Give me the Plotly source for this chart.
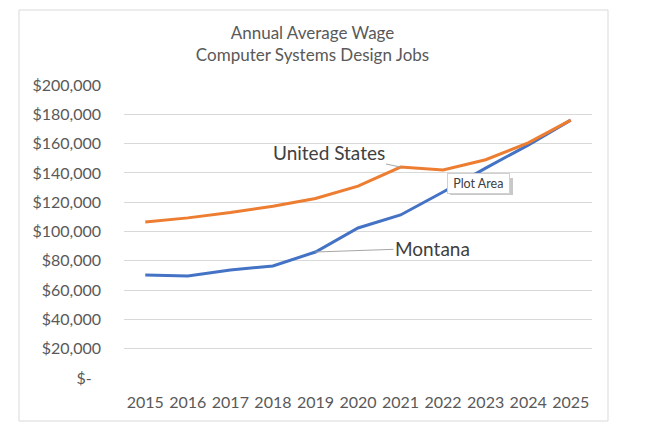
import plotly.graph_objects as go

years = ["2015", "2016", "2017", "2018", "2019", "2020", "2021", "2022", "2023", "2024", "2025"]
us_wage = [106500, 109300, 112900, 117200, 122500, 131000, 144000, 142000, 149000, 160500, 176000]
mt_wage = [70300, 69600, 73700, 76500, 86000, 102400, 111300, 127000, 143300, 159000, 176000]
y_ticks = [0, 20000, 40000, 60000, 80000, 100000, 120000, 140000, 160000, 180000, 200000]
y_text = ["$-\u2007"] + [f"${v:,}" for v in y_ticks[1:]]

FONT = "Lato"
GREY = "#595959"

fig = go.Figure()
fig.add_trace(go.Scatter(x=years, y=mt_wage, mode="lines", name="Montana",
                         line=dict(color="#4472C4", width=3)))
fig.add_trace(go.Scatter(x=years, y=us_wage, mode="lines", name="United States",
                         line=dict(color="#ED7D31", width=3)))

fig.update_layout(
    width=664, height=433,
    margin=dict(l=124, r=72, t=85, b=55),
    paper_bgcolor="white", plot_bgcolor="white",
    showlegend=False,
    font=dict(family=FONT, color=GREY, size=16),
    title=dict(text="Annual Average Wage<br>Computer Systems Design Jobs",
               x=312.5 / 664, xanchor="center", y=0.911, yanchor="top",
               font=dict(family=FONT, size=17, color=GREY)),
)
fig.update_xaxes(type="category", range=[-0.5, 10.5], showgrid=False, showline=False,
                 ticks="", tickfont=dict(size=16, color=GREY), ticklabelstandoff=13)
fig.update_yaxes(range=[0, 200000], tickvals=y_ticks, ticktext=y_text,
                 showgrid=True, gridcolor="#d9d9d9", gridwidth=1, zeroline=False,
                 showline=False, ticks="", tickfont=dict(size=16, color=GREY),
                 ticklabelstandoff=22)

# chart border
fig.add_shape(type="rect", xref="paper", yref="paper",
              x0=(19 - 124) / 468, x1=(608 - 124) / 468,
              y0=(378 - 421) / 293, y1=(378 - 10) / 293,
              line=dict(color="#d9d9d9", width=1), fillcolor="rgba(0,0,0,0)", layer="below")

# series labels with leader lines
fig.add_annotation(x=6, y=us_wage[6], text="United States", showarrow=True,
                   arrowhead=0, arrowwidth=1, arrowcolor="#a6a6a6", ax=-72, ay=-15,
                   font=dict(size=19, color="#404040", family=FONT))
fig.add_annotation(x=4, y=mt_wage[4], text="Montana", showarrow=True,
                   arrowhead=0, arrowwidth=1, arrowcolor="#a6a6a6", ax=117, ay=-4,
                   font=dict(size=19, color="#404040", family=FONT))

# "Plot Area" tooltip (shadow + box)
fig.add_shape(type="rect", xref="paper", yref="paper",
              x0=(450 - 124) / 468, x1=(513 - 124) / 468,
              y0=(378 - 195) / 293, y1=(378 - 178) / 293,
              line=dict(width=0), fillcolor="#c8c8c8", layer="above")
fig.add_annotation(xref="paper", yref="paper", x=(478.5 - 124) / 468, y=(378 - 183.5) / 293,
                   xanchor="center", yanchor="middle",
                   text="&nbsp;Plot Area&nbsp;", showarrow=False, bgcolor="white",
                   bordercolor="#d0d0d0", borderwidth=1, borderpad=2,
                   font=dict(size=12.5, color="#404040", family=FONT))

fig.write_html("out.html")
